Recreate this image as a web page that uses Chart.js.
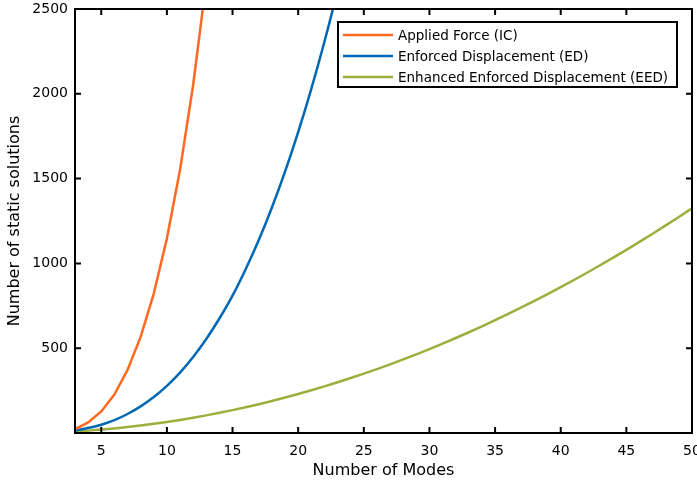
<!DOCTYPE html>
<html>
<head>
<meta charset="utf-8">
<script src="https://cdn.jsdelivr.net/npm/chart.js@4.4.1/dist/chart.umd.min.js"></script>
<style>
  html, body { margin: 0; padding: 0; background: #fff; }
</style>
</head>
<body>
<canvas id="chart" width="697" height="485"></canvas>
<script>
// Data
const icModes = [3, 4, 5, 6, 7, 8, 9, 10, 11, 12, 13];
const icValues = [22, 62, 127, 227, 372, 567, 822, 1147, 1552, 2052, 2662];

const edModes = [3, 4, 5, 6, 7, 8, 9, 10, 11, 12, 13, 14, 15, 16, 17, 18, 19, 20, 21, 22, 23, 24];
const edValues = [15, 29, 49, 76, 112, 157, 212, 278, 356, 448, 554, 675, 810, 966, 1138, 1330, 1541, 1774, 2029, 2307, 2609, 2936];

const eedModes = [3, 4, 5, 6, 7, 8, 9, 10, 11, 12, 13, 14, 15, 16, 17, 18, 19, 20, 21, 22, 23, 24, 25, 26,
  27, 28, 29, 30, 31, 32, 33, 34, 35, 36, 37, 38, 39, 40, 41, 42, 43, 44, 45, 46, 47, 48, 49, 50];
const eedValues = [9, 14, 20, 27, 35, 44, 54, 65, 77, 90, 104, 119, 135, 152, 170, 189, 209, 230, 252, 275, 299, 324, 350, 377,
  405, 434, 464, 495, 527, 560, 594, 629, 665, 702, 740, 779, 819, 860, 902, 945, 989, 1034, 1080, 1127, 1175, 1224, 1274, 1325];

const seriesNames = ['Applied Force (IC)', 'Enforced Displacement (ED)', 'Enhanced Enforced Displacement (EED)'];
const xTicks = [5, 10, 15, 20, 25, 30, 35, 40, 45, 50];
const yTicks = [500, 1000, 1500, 2000, 2500];

const toPoints = (xs, ys) => xs.map((m, i) => ({ x: m, y: ys[i] }));

// box round the plot with inward ticks on all four sides (MATLAB look)
const frame = {
  id: 'frame',
  afterDatasetsDraw(chart) {
    const { ctx, chartArea: a, scales: { x, y } } = chart;
    const len = 6;
    ctx.save();
    ctx.strokeStyle = '#000';
    ctx.lineWidth = 2;
    ctx.beginPath();
    x.ticks.forEach(t => {
      const px = x.getPixelForValue(t.value);
      ctx.moveTo(px, a.bottom); ctx.lineTo(px, a.bottom - len);
      ctx.moveTo(px, a.top); ctx.lineTo(px, a.top + len);
    });
    y.ticks.forEach(t => {
      const py = y.getPixelForValue(t.value);
      ctx.moveTo(a.left, py); ctx.lineTo(a.left + len, py);
      ctx.moveTo(a.right, py); ctx.lineTo(a.right - len, py);
    });
    ctx.stroke();
    ctx.strokeRect(a.left, a.top, a.right - a.left, a.bottom - a.top);
    ctx.restore();
  }
};

// legend drawn inside the plot, top right
const boxLegend = {
  id: 'boxLegend',
  afterDraw(chart) {
    const { ctx, chartArea: a } = chart;
    const w = 339, h = 65;
    const left = a.right - 15 - w, top = a.top + 13;
    ctx.save();
    ctx.fillStyle = '#fff';
    ctx.fillRect(left, top, w, h);
    ctx.strokeStyle = '#000';
    ctx.lineWidth = 2;
    ctx.strokeRect(left, top, w, h);
    ctx.font = '13.5px "DejaVu Sans"';
    ctx.textBaseline = 'middle';
    chart.data.datasets.forEach((ds, i) => {
      const cy = top + 13 + i * 21;
      ctx.strokeStyle = ds.borderColor;
      ctx.lineWidth = 2.5;
      ctx.beginPath();
      ctx.moveTo(left + 5, cy);
      ctx.lineTo(left + 55, cy);
      ctx.stroke();
      ctx.fillStyle = '#000';
      ctx.fillText(ds.label, left + 60, cy + 1);
    });
    ctx.restore();
  }
};

const plain = v => String(v);

new Chart(document.getElementById('chart'), {
  type: 'line',
  data: {
    datasets: [
      { label: seriesNames[0], data: toPoints(icModes, icValues), borderColor: '#FF6A21' },
      { label: seriesNames[1], data: toPoints(edModes, edValues), borderColor: '#0068B5', cubicInterpolationMode: 'monotone' },
      { label: seriesNames[2], data: toPoints(eedModes, eedValues), borderColor: '#9BB03C', cubicInterpolationMode: 'monotone' }
    ]
  },
  options: {
    responsive: false,
    animation: false,
    layout: { padding: { top: 9, right: 5, left: 0, bottom: 0 } },
    elements: {
      point: { radius: 0 },
      line: { borderWidth: 2.5, tension: 0 }
    },
    plugins: {
      legend: { display: false },
      tooltip: { enabled: false }
    },
    scales: {
      x: {
        type: 'linear',
        min: 3,
        max: 50,
        afterBuildTicks: s => { s.ticks = xTicks.map(v => ({ value: v })); },
        afterFit: s => { s.height = 52; s.paddingLeft = 0; s.paddingRight = 0; },
        grid: { display: false, drawTicks: false },
        border: { display: false },
        ticks: { color: '#000', padding: 10, font: { family: 'DejaVu Sans', size: 14 }, maxRotation: 0, callback: plain },
        title: { display: true, text: 'Number of Modes', color: '#000', padding: { top: 0, bottom: 5 },
                 font: { family: 'DejaVu Sans', size: 16 } }
      },
      y: {
        min: 0,
        max: 2500,
        afterBuildTicks: s => { s.ticks = yTicks.map(v => ({ value: v })); },
        afterFit: s => { s.width = 75; s.paddingTop = 0; s.paddingBottom = 0; },
        grid: { display: false, drawTicks: false },
        border: { display: false },
        ticks: { color: '#000', padding: 7, font: { family: 'DejaVu Sans', size: 14 }, callback: plain },
        title: { display: true, text: 'Number of static solutions', color: '#000', padding: { top: 5, bottom: 0 },
                 font: { family: 'DejaVu Sans', size: 16 } }
      }
    }
  },
  plugins: [frame, boxLegend]
});
</script>
</body>
</html>
